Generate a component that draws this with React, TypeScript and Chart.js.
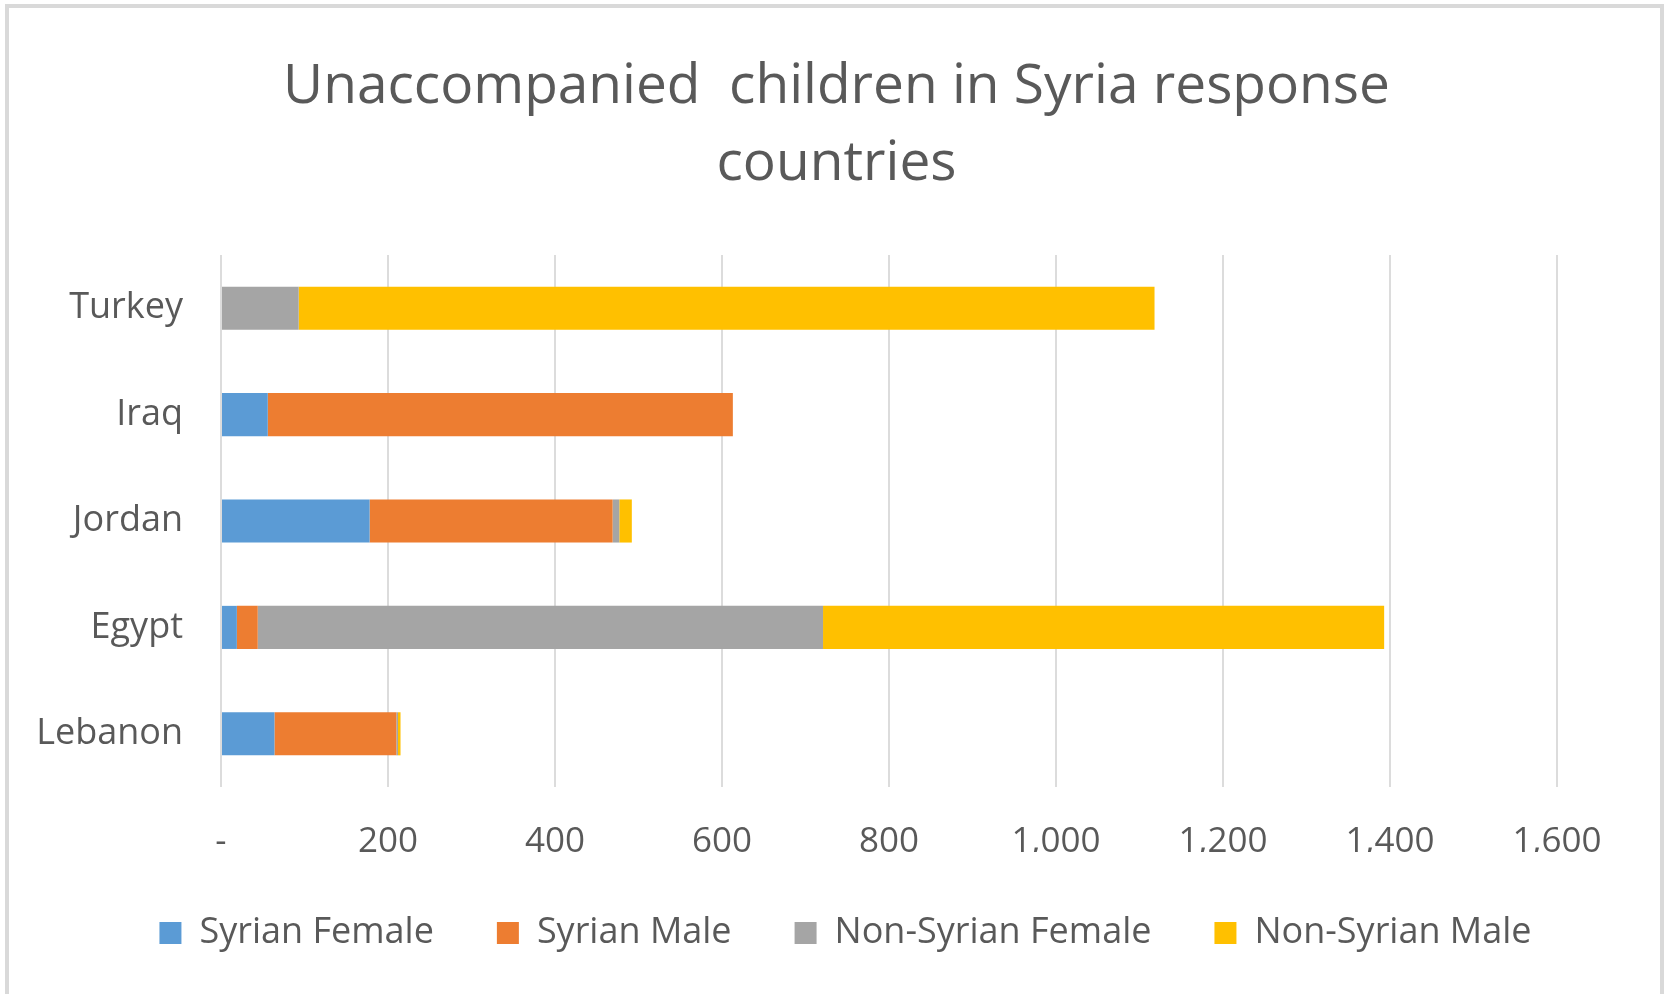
import React, { useEffect, useRef } from "react";
import { Chart, registerables } from "chart.js";

Chart.register(...registerables);

// Countries listed top to bottom as drawn
const countries = ["Turkey", "Iraq", "Jordan", "Egypt", "Lebanon"];

const syrianFemale = [0, 56, 178, 19, 64];
const syrianMale = [0, 557, 291, 25, 146];
const nonSyrianFemale = [93, 0, 8, 677, 2];
const nonSyrianMale = [1025, 0, 15, 672, 3];

const seriesNames = ["Syrian Female", "Syrian Male", "Non-Syrian Female", "Non-Syrian Male"];
const seriesColors = ["#5B9BD5", "#ED7D31", "#A5A5A5", "#FFC000"];

const titleLines = ["Unaccompanied  children in Syria response", "countries"];

const axisMin = 0;
const axisMax = 1600;
const axisStep = 200;

const FONT = "'Open Sans', 'Noto Sans', sans-serif";
const TEXT = "#595959";

// Thousands separator with a comma; zero shown as a dash
function formatTick(v: number): string {
  if (v === 0) return "-";
  return String(Math.round(v)).replace(/\B(?=(\d{3})+(?!\d))/g, ",");
}

// Nudges the legend row slightly to the right
const legendNudge = {
  id: "legendNudge",
  afterLayout(chart: any) {
    const l = chart.legend;
    if (l) {
      l.left += 9;
      l.right += 9;
    }
  },
};

export default function App() {
  const canvasRef = useRef<HTMLCanvasElement | null>(null);

  useEffect(() => {
    const canvas = canvasRef.current;
    if (!canvas) return;
    const values = [syrianFemale, syrianMale, nonSyrianFemale, nonSyrianMale];
    const chart = new Chart(canvas, {
      type: "bar",
      data: {
        labels: countries,
        datasets: values.map((v, i) => ({
          label: seriesNames[i],
          data: v,
          backgroundColor: seriesColors[i],
          borderWidth: 0,
          categoryPercentage: 0.45,
          barPercentage: 0.9,
        })),
      },
      plugins: [legendNudge],
      options: {
        indexAxis: "y",
        animation: false,
        responsive: false,
        maintainAspectRatio: false,
        layout: { padding: { left: 6, right: 0, top: 0, bottom: 33 } },
        plugins: {
          tooltip: { enabled: false },
          title: {
            display: true,
            text: titleLines,
            color: TEXT,
            font: { family: FONT, size: 55, weight: "normal", lineHeight: 1.4 },
            padding: { top: 49, bottom: 52 },
          },
          legend: {
            display: true,
            position: "bottom",
            labels: {
              color: TEXT,
              font: { family: FONT, size: 36 },
              boxWidth: 22,
              boxHeight: 22,
              padding: 63,
            },
          },
        },
        scales: {
          x: {
            type: "linear",
            stacked: true,
            min: axisMin,
            max: axisMax,
            border: { display: false },
            grid: { color: "#DCDCDC", lineWidth: 2, drawTicks: false },
            ticks: {
              stepSize: axisStep,
              color: TEXT,
              font: { family: FONT, size: 35 },
              padding: 34,
              callback: (v: any) => formatTick(Number(v)),
            },
            afterFit: (s: any) => {
              s.height = 65;
            },
          },
          y: {
            type: "category",
            stacked: true,
            border: { display: false },
            grid: { display: false, drawTicks: false },
            ticks: { color: TEXT, font: { family: FONT, size: 36 }, padding: 38 },
            afterFit: (s: any) => {
              s.width = 215;
            },
          },
          yRight: {
            type: "category",
            position: "right",
            display: true,
            border: { display: false },
            grid: { display: false, drawTicks: false },
            ticks: { display: false },
            afterFit: (s: any) => {
              s.width = 110;
            },
          },
        },
      },
    });
    return () => chart.destroy();
  }, []);

  return (
    <div
      style={{
        position: "fixed",
        left: 0,
        top: 0,
        width: 1667,
        height: 994,
        background: "#ffffff",
        overflow: "hidden",
      }}
    >
      <canvas
        ref={canvasRef}
        width={1667}
        height={994}
        style={{ position: "absolute", left: 0, top: 0, width: 1667, height: 994 }}
      />
      <div
        style={{
          position: "absolute",
          left: 5,
          top: 4,
          width: 1651,
          height: 1100,
          border: "4px solid #D9D9D9",
          boxSizing: "content-box",
          pointerEvents: "none",
        }}
      />
    </div>
  );
}
